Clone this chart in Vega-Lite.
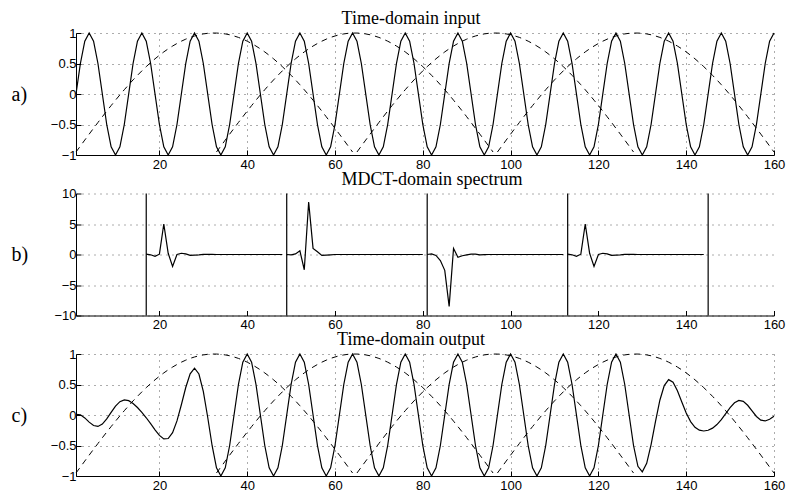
{
 "$schema": "https://vega.github.io/schema/vega-lite/v6.json",
 "padding": {"left": 11, "top": 10, "right": 5, "bottom": 5},
 "background": "white",
 "bounds": "flush",
 "spacing": 38.5,
 "datasets": {
  "sig": [
   {"n":1,"a":0,"c":0.0123,"w1":-0.951},
   {"n":2,"a":0.5,"c":0.0027,"w1":-0.853},
   {"n":3,"a":0.866,"c":-0.0478,"w1":-0.755},
   {"n":4,"a":1,"c":-0.1166,"w1":-0.658},
   {"n":5,"a":0.866,"c":-0.1722,"w1":-0.562},
   {"n":6,"a":0.5,"c":-0.187,"w1":-0.467},
   {"n":7,"a":0,"c":-0.1489,"w1":-0.373},
   {"n":8,"a":-0.5,"c":-0.0648,"w1":-0.28},
   {"n":9,"a":-0.866,"c":0.043,"w1":-0.19},
   {"n":10,"a":-1,"c":0.1456,"w1":-0.101},
   {"n":11,"a":-0.866,"c":0.2185,"w1":-0.014},
   {"n":12,"a":-0.5,"c":0.2483,"w1":0.07},
   {"n":13,"a":0,"c":0.2354,"w1":0.152},
   {"n":14,"a":0.5,"c":0.1893,"w1":0.231},
   {"n":15,"a":0.866,"c":0.1222,"w1":0.306},
   {"n":16,"a":1,"c":0.043,"w1":0.379},
   {"n":17,"a":0.866,"c":-0.0452,"w1":0.449},
   {"n":18,"a":0.5,"c":-0.1416,"w1":0.514},
   {"n":19,"a":0,"c":-0.2425,"w1":0.577},
   {"n":20,"a":-0.5,"c":-0.3342,"w1":0.635},
   {"n":21,"a":-0.866,"c":-0.3921,"w1":0.69},
   {"n":22,"a":-1,"c":-0.3857,"w1":0.74},
   {"n":23,"a":-0.866,"c":-0.2893,"w1":0.786},
   {"n":24,"a":-0.5,"c":-0.0971,"w1":0.828},
   {"n":25,"a":0,"c":0.1679,"w1":0.866},
   {"n":26,"a":0.5,"c":0.4508,"w1":0.899},
   {"n":27,"a":0.866,"c":0.6759,"w1":0.928},
   {"n":28,"a":1,"c":0.7669,"w1":0.951},
   {"n":29,"a":0.866,"c":0.6723,"w1":0.971},
   {"n":30,"a":0.5,"c":0.3873,"w1":0.985},
   {"n":31,"a":0,"c":-0.0367,"w1":0.995},
   {"n":32,"a":-0.5,"c":-0.4997,"w1":0.999},
   {"n":33,"a":-0.866,"c":-0.866,"w1":0.999,"w2":-0.951},
   {"n":34,"a":-1,"c":-1,"w1":0.995,"w2":-0.853},
   {"n":35,"a":-0.866,"c":-0.866,"w1":0.985,"w2":-0.755},
   {"n":36,"a":-0.5,"c":-0.5,"w1":0.971,"w2":-0.658},
   {"n":37,"a":0,"c":0,"w1":0.951,"w2":-0.562},
   {"n":38,"a":0.5,"c":0.5,"w1":0.928,"w2":-0.467},
   {"n":39,"a":0.866,"c":0.866,"w1":0.899,"w2":-0.373},
   {"n":40,"a":1,"c":1,"w1":0.866,"w2":-0.28},
   {"n":41,"a":0.866,"c":0.866,"w1":0.828,"w2":-0.19},
   {"n":42,"a":0.5,"c":0.5,"w1":0.786,"w2":-0.101},
   {"n":43,"a":0,"c":0,"w1":0.74,"w2":-0.014},
   {"n":44,"a":-0.5,"c":-0.5,"w1":0.69,"w2":0.07},
   {"n":45,"a":-0.866,"c":-0.866,"w1":0.635,"w2":0.152},
   {"n":46,"a":-1,"c":-1,"w1":0.577,"w2":0.231},
   {"n":47,"a":-0.866,"c":-0.866,"w1":0.514,"w2":0.306},
   {"n":48,"a":-0.5,"c":-0.5,"w1":0.449,"w2":0.379},
   {"n":49,"a":0,"c":0,"w1":0.379,"w2":0.449},
   {"n":50,"a":0.5,"c":0.5,"w1":0.306,"w2":0.514},
   {"n":51,"a":0.866,"c":0.866,"w1":0.231,"w2":0.577},
   {"n":52,"a":1,"c":1,"w1":0.152,"w2":0.635},
   {"n":53,"a":0.866,"c":0.866,"w1":0.07,"w2":0.69},
   {"n":54,"a":0.5,"c":0.5,"w1":-0.014,"w2":0.74},
   {"n":55,"a":0,"c":0,"w1":-0.101,"w2":0.786},
   {"n":56,"a":-0.5,"c":-0.5,"w1":-0.19,"w2":0.828},
   {"n":57,"a":-0.866,"c":-0.866,"w1":-0.28,"w2":0.866},
   {"n":58,"a":-1,"c":-1,"w1":-0.373,"w2":0.899},
   {"n":59,"a":-0.866,"c":-0.866,"w1":-0.467,"w2":0.928},
   {"n":60,"a":-0.5,"c":-0.5,"w1":-0.562,"w2":0.951},
   {"n":61,"a":0,"c":0,"w1":-0.658,"w2":0.971},
   {"n":62,"a":0.5,"c":0.5,"w1":-0.755,"w2":0.985},
   {"n":63,"a":0.866,"c":0.866,"w1":-0.853,"w2":0.995},
   {"n":64,"a":1,"c":1,"w1":-0.951,"w2":0.999},
   {"n":65,"a":0.866,"c":0.866,"w2":0.999,"w3":-0.951},
   {"n":66,"a":0.5,"c":0.5,"w2":0.995,"w3":-0.853},
   {"n":67,"a":0,"c":0,"w2":0.985,"w3":-0.755},
   {"n":68,"a":-0.5,"c":-0.5,"w2":0.971,"w3":-0.658},
   {"n":69,"a":-0.866,"c":-0.866,"w2":0.951,"w3":-0.562},
   {"n":70,"a":-1,"c":-1,"w2":0.928,"w3":-0.467},
   {"n":71,"a":-0.866,"c":-0.866,"w2":0.899,"w3":-0.373},
   {"n":72,"a":-0.5,"c":-0.5,"w2":0.866,"w3":-0.28},
   {"n":73,"a":0,"c":0,"w2":0.828,"w3":-0.19},
   {"n":74,"a":0.5,"c":0.5,"w2":0.786,"w3":-0.101},
   {"n":75,"a":0.866,"c":0.866,"w2":0.74,"w3":-0.014},
   {"n":76,"a":1,"c":1,"w2":0.69,"w3":0.07},
   {"n":77,"a":0.866,"c":0.866,"w2":0.635,"w3":0.152},
   {"n":78,"a":0.5,"c":0.5,"w2":0.577,"w3":0.231},
   {"n":79,"a":0,"c":0,"w2":0.514,"w3":0.306},
   {"n":80,"a":-0.5,"c":-0.5,"w2":0.449,"w3":0.379},
   {"n":81,"a":-0.866,"c":-0.866,"w2":0.379,"w3":0.449},
   {"n":82,"a":-1,"c":-1,"w2":0.306,"w3":0.514},
   {"n":83,"a":-0.866,"c":-0.866,"w2":0.231,"w3":0.577},
   {"n":84,"a":-0.5,"c":-0.5,"w2":0.152,"w3":0.635},
   {"n":85,"a":0,"c":0,"w2":0.07,"w3":0.69},
   {"n":86,"a":0.5,"c":0.5,"w2":-0.014,"w3":0.74},
   {"n":87,"a":0.866,"c":0.866,"w2":-0.101,"w3":0.786},
   {"n":88,"a":1,"c":1,"w2":-0.19,"w3":0.828},
   {"n":89,"a":0.866,"c":0.866,"w2":-0.28,"w3":0.866},
   {"n":90,"a":0.5,"c":0.5,"w2":-0.373,"w3":0.899},
   {"n":91,"a":0,"c":0,"w2":-0.467,"w3":0.928},
   {"n":92,"a":-0.5,"c":-0.5,"w2":-0.562,"w3":0.951},
   {"n":93,"a":-0.866,"c":-0.866,"w2":-0.658,"w3":0.971},
   {"n":94,"a":-1,"c":-1,"w2":-0.755,"w3":0.985},
   {"n":95,"a":-0.866,"c":-0.866,"w2":-0.853,"w3":0.995},
   {"n":96,"a":-0.5,"c":-0.5,"w2":-0.951,"w3":0.999},
   {"n":97,"a":0,"c":0,"w3":0.999,"w4":-0.951},
   {"n":98,"a":0.5,"c":0.5,"w3":0.995,"w4":-0.853},
   {"n":99,"a":0.866,"c":0.866,"w3":0.985,"w4":-0.755},
   {"n":100,"a":1,"c":1,"w3":0.971,"w4":-0.658},
   {"n":101,"a":0.866,"c":0.866,"w3":0.951,"w4":-0.562},
   {"n":102,"a":0.5,"c":0.5,"w3":0.928,"w4":-0.467},
   {"n":103,"a":0,"c":0,"w3":0.899,"w4":-0.373},
   {"n":104,"a":-0.5,"c":-0.5,"w3":0.866,"w4":-0.28},
   {"n":105,"a":-0.866,"c":-0.866,"w3":0.828,"w4":-0.19},
   {"n":106,"a":-1,"c":-1,"w3":0.786,"w4":-0.101},
   {"n":107,"a":-0.866,"c":-0.866,"w3":0.74,"w4":-0.014},
   {"n":108,"a":-0.5,"c":-0.5,"w3":0.69,"w4":0.07},
   {"n":109,"a":0,"c":0,"w3":0.635,"w4":0.152},
   {"n":110,"a":0.5,"c":0.5,"w3":0.577,"w4":0.231},
   {"n":111,"a":0.866,"c":0.866,"w3":0.514,"w4":0.306},
   {"n":112,"a":1,"c":1,"w3":0.449,"w4":0.379},
   {"n":113,"a":0.866,"c":0.866,"w3":0.379,"w4":0.449},
   {"n":114,"a":0.5,"c":0.5,"w3":0.306,"w4":0.514},
   {"n":115,"a":0,"c":0,"w3":0.231,"w4":0.577},
   {"n":116,"a":-0.5,"c":-0.5,"w3":0.152,"w4":0.635},
   {"n":117,"a":-0.866,"c":-0.866,"w3":0.07,"w4":0.69},
   {"n":118,"a":-1,"c":-1,"w3":-0.014,"w4":0.74},
   {"n":119,"a":-0.866,"c":-0.866,"w3":-0.101,"w4":0.786},
   {"n":120,"a":-0.5,"c":-0.5,"w3":-0.19,"w4":0.828},
   {"n":121,"a":0,"c":0,"w3":-0.28,"w4":0.866},
   {"n":122,"a":0.5,"c":0.5,"w3":-0.373,"w4":0.899},
   {"n":123,"a":0.866,"c":0.866,"w3":-0.467,"w4":0.928},
   {"n":124,"a":1,"c":1,"w3":-0.562,"w4":0.951},
   {"n":125,"a":0.866,"c":0.866,"w3":-0.658,"w4":0.971},
   {"n":126,"a":0.5,"c":0.5,"w3":-0.755,"w4":0.985},
   {"n":127,"a":0,"c":0,"w3":-0.853,"w4":0.995},
   {"n":128,"a":-0.5,"c":-0.5,"w3":-0.951,"w4":0.999},
   {"n":129,"a":-0.866,"c":-0.841,"w4":0.999},
   {"n":130,"a":-1,"c":-0.9311,"w4":0.995},
   {"n":131,"a":-0.866,"c":-0.7923,"w4":0.985},
   {"n":132,"a":-0.5,"c":-0.4854,"w4":0.971},
   {"n":133,"a":0,"c":-0.1069,"w4":0.951},
   {"n":134,"a":0.5,"c":0.2418,"w4":0.928},
   {"n":135,"a":0.866,"c":0.4829,"w4":0.899},
   {"n":136,"a":1,"c":0.5797,"w4":0.866},
   {"n":137,"a":0.866,"c":0.5386,"w4":0.828},
   {"n":138,"a":0.5,"c":0.3989,"w4":0.786},
   {"n":139,"a":0,"c":0.2144,"w4":0.74},
   {"n":140,"a":-0.5,"c":0.0345,"w4":0.69},
   {"n":141,"a":-0.866,"c":-0.1081,"w4":0.635},
   {"n":142,"a":-1,"c":-0.2015,"w4":0.577},
   {"n":143,"a":-0.866,"c":-0.2492,"w4":0.514},
   {"n":144,"a":-0.5,"c":-0.2623,"w4":0.449},
   {"n":145,"a":0,"c":-0.2497,"w4":0.379},
   {"n":146,"a":0.5,"c":-0.215,"w4":0.306},
   {"n":147,"a":0.866,"c":-0.1572,"w4":0.231},
   {"n":148,"a":1,"c":-0.0761,"w4":0.152},
   {"n":149,"a":0.866,"c":0.0219,"w4":0.07},
   {"n":150,"a":0.5,"c":0.1215,"w4":-0.014},
   {"n":151,"a":0,"c":0.2008,"w4":-0.101},
   {"n":152,"a":-0.5,"c":0.2387,"w4":-0.19},
   {"n":153,"a":-0.866,"c":0.2236,"w4":-0.28},
   {"n":154,"a":-1,"c":0.1595,"w4":-0.373},
   {"n":155,"a":-0.866,"c":0.0669,"w4":-0.467},
   {"n":156,"a":-0.5,"c":-0.024,"w4":-0.562},
   {"n":157,"a":0,"c":-0.0842,"w4":-0.658},
   {"n":158,"a":0.5,"c":-0.0977,"w4":-0.755},
   {"n":159,"a":0.866,"c":-0.0687,"w4":-0.853},
   {"n":160,"a":1,"c":-0.0206,"w4":-0.951}
  ],
  "spec": [
   {"n":17,"b":1,"s":0.05},{"n":18,"b":1,"s":-0.05},{"n":19,"b":1,"s":-0.3},{"n":20,"b":1,"s":0.05},
   {"n":21,"b":1,"s":5.0},{"n":22,"b":1,"s":0.2},{"n":23,"b":1,"s":-1.95},{"n":24,"b":1,"s":0.0},
   {"n":25,"b":1,"s":0.2},{"n":26,"b":1,"s":0.1},{"n":27,"b":1,"s":-0.15},{"n":28,"b":1,"s":-0.1},
   {"n":29,"b":1,"s":-0.05},{"n":30,"b":1,"s":0.02},{"n":31,"b":1,"s":0.03},{"n":32,"b":1,"s":0.02},
   {"n":33,"b":1,"s":0},{"n":34,"b":1,"s":0},{"n":35,"b":1,"s":0},{"n":36,"b":1,"s":0},
   {"n":37,"b":1,"s":0},{"n":38,"b":1,"s":0},{"n":39,"b":1,"s":0},{"n":40,"b":1,"s":0},
   {"n":41,"b":1,"s":0},{"n":42,"b":1,"s":0},{"n":43,"b":1,"s":0},{"n":44,"b":1,"s":0},
   {"n":45,"b":1,"s":0},{"n":46,"b":1,"s":0},{"n":47,"b":1,"s":0},{"n":48,"b":1,"s":0},
   {"n":49,"b":2,"s":0},{"n":50,"b":2,"s":-0.05},{"n":51,"b":2,"s":0.1},{"n":52,"b":2,"s":0.6},
   {"n":53,"b":2,"s":-2.5},{"n":54,"b":2,"s":8.6},{"n":55,"b":2,"s":1.0},{"n":56,"b":2,"s":0.45},
   {"n":57,"b":2,"s":-0.15},{"n":58,"b":2,"s":-0.1},{"n":59,"b":2,"s":-0.05},{"n":60,"b":2,"s":0},
   {"n":61,"b":2,"s":0},{"n":62,"b":2,"s":0},{"n":63,"b":2,"s":0},{"n":64,"b":2,"s":0},
   {"n":65,"b":2,"s":0},{"n":66,"b":2,"s":0},{"n":67,"b":2,"s":0},{"n":68,"b":2,"s":0},
   {"n":69,"b":2,"s":0},{"n":70,"b":2,"s":0},{"n":71,"b":2,"s":0},{"n":72,"b":2,"s":0},
   {"n":73,"b":2,"s":0},{"n":74,"b":2,"s":0},{"n":75,"b":2,"s":0},{"n":76,"b":2,"s":0},
   {"n":77,"b":2,"s":0},{"n":78,"b":2,"s":0},{"n":79,"b":2,"s":0},{"n":80,"b":2,"s":0},
   {"n":81,"b":3,"s":0},{"n":82,"b":3,"s":0.1},{"n":83,"b":3,"s":-0.15},{"n":84,"b":3,"s":-1.0},
   {"n":85,"b":3,"s":-2.6},{"n":86,"b":3,"s":-8.5},{"n":87,"b":3,"s":1.0},{"n":88,"b":3,"s":-0.45},
   {"n":89,"b":3,"s":-0.2},{"n":90,"b":3,"s":-0.05},{"n":91,"b":3,"s":0.05},{"n":92,"b":3,"s":0.05},
   {"n":93,"b":3,"s":-0.05},{"n":94,"b":3,"s":-0.03},{"n":95,"b":3,"s":0},{"n":96,"b":3,"s":0},
   {"n":97,"b":3,"s":0},{"n":98,"b":3,"s":0},{"n":99,"b":3,"s":0},{"n":100,"b":3,"s":0},
   {"n":101,"b":3,"s":0},{"n":102,"b":3,"s":0},{"n":103,"b":3,"s":0},{"n":104,"b":3,"s":0},
   {"n":105,"b":3,"s":0},{"n":106,"b":3,"s":0},{"n":107,"b":3,"s":0},{"n":108,"b":3,"s":0},
   {"n":109,"b":3,"s":0},{"n":110,"b":3,"s":0},{"n":111,"b":3,"s":0},{"n":112,"b":3,"s":0},
   {"n":113,"b":4,"s":0.05},{"n":114,"b":4,"s":-0.05},{"n":115,"b":4,"s":-0.3},{"n":116,"b":4,"s":0.05},
   {"n":117,"b":4,"s":5.0},{"n":118,"b":4,"s":0.2},{"n":119,"b":4,"s":-1.95},{"n":120,"b":4,"s":0.0},
   {"n":121,"b":4,"s":0.2},{"n":122,"b":4,"s":0.1},{"n":123,"b":4,"s":-0.15},{"n":124,"b":4,"s":-0.1},
   {"n":125,"b":4,"s":-0.05},{"n":126,"b":4,"s":0.02},{"n":127,"b":4,"s":0.03},{"n":128,"b":4,"s":0.02},
   {"n":129,"b":4,"s":0},{"n":130,"b":4,"s":0},{"n":131,"b":4,"s":0},{"n":132,"b":4,"s":0},
   {"n":133,"b":4,"s":0},{"n":134,"b":4,"s":0},{"n":135,"b":4,"s":0},{"n":136,"b":4,"s":0},
   {"n":137,"b":4,"s":0},{"n":138,"b":4,"s":0},{"n":139,"b":4,"s":0},{"n":140,"b":4,"s":0},
   {"n":141,"b":4,"s":0},{"n":142,"b":4,"s":0},{"n":143,"b":4,"s":0},{"n":144,"b":4,"s":0}
  ],
  "edges": [{"n":17},{"n":49},{"n":81},{"n":113},{"n":145}]
 },
 "vconcat": [
  {
   "width": 698, "height": 122,
   "title": {"text": "Time-domain input", "dx": -14},
   "data": {"name": "sig"},
   "layer": [
    {
     "mark": {"type": "line", "color": "#000", "strokeWidth": 1.2},
     "encoding": {
      "x": {"field": "n", "type": "quantitative", "title": null,
            "scale": {"domain": [1, 160], "nice": false, "zero": false},
            "axis": {"values": [20,40,60,80,100,120,140,160], "format": "d"}},
      "y": {"field": "a", "type": "quantitative", "title": "a)",
            "scale": {"domain": [-1, 1], "nice": false},
            "axis": {"values": [-1,-0.5,0,0.5,1], "format": ".1~f", "labelOverlap": false}}
     }
    },
    {
     "transform": [{"fold": ["w1","w2","w3","w4"], "as": ["w","v"]}, {"filter": "isValid(datum.v)"}],
     "mark": {"type": "line", "color": "#000", "strokeWidth": 1, "strokeDash": [6,5]},
     "encoding": {
      "x": {"field": "n", "type": "quantitative", "title": null,
            "axis": {"values": [20,40,60,80,100,120,140,160], "format": "d"}},
      "y": {"field": "v", "type": "quantitative", "title": "a)",
            "axis": {"values": [-1,-0.5,0,0.5,1], "format": ".1~f", "labelOverlap": false}},
      "detail": {"field": "w"}
     }
    }
   ]
  },
  {
   "width": 698, "height": 122,
   "title": {"text": "MDCT-domain spectrum", "dx": 7},
   "layer": [
    {
     "data": {"name": "spec"},
     "mark": {"type": "line", "color": "#000", "strokeWidth": 1.2},
     "encoding": {
      "x": {"field": "n", "type": "quantitative", "title": null,
            "scale": {"domain": [1, 160], "nice": false, "zero": false},
            "axis": {"values": [20,40,60,80,100,120,140,160], "format": "d", "grid": false}},
      "y": {"field": "s", "type": "quantitative", "title": "b)",
            "scale": {"domain": [-10, 10], "nice": false},
            "axis": {"values": [-10,-5,0,5,10], "format": "d", "labelOverlap": false}},
      "detail": {"field": "b"}
     }
    },
    {
     "data": {"name": "edges"},
     "mark": {"type": "rule", "color": "#000", "strokeWidth": 1.2},
     "encoding": {
      "x": {"field": "n", "type": "quantitative", "title": null,
            "axis": {"values": [20,40,60,80,100,120,140,160], "format": "d", "grid": false}}
     }
    }
   ]
  },
  {
   "width": 698, "height": 122,
   "title": {"text": "Time-domain output", "dx": -14},
   "data": {"name": "sig"},
   "layer": [
    {
     "mark": {"type": "line", "color": "#000", "strokeWidth": 1.2},
     "encoding": {
      "x": {"field": "n", "type": "quantitative", "title": null,
            "scale": {"domain": [1, 160], "nice": false, "zero": false},
            "axis": {"values": [20,40,60,80,100,120,140,160], "format": "d"}},
      "y": {"field": "c", "type": "quantitative", "title": "c)",
            "scale": {"domain": [-1, 1], "nice": false},
            "axis": {"values": [-1,-0.5,0,0.5,1], "format": ".1~f", "labelOverlap": false}}
     }
    },
    {
     "transform": [{"fold": ["w1","w2","w3","w4"], "as": ["w","v"]}, {"filter": "isValid(datum.v)"}],
     "mark": {"type": "line", "color": "#000", "strokeWidth": 1, "strokeDash": [6,5]},
     "encoding": {
      "x": {"field": "n", "type": "quantitative", "title": null,
            "axis": {"values": [20,40,60,80,100,120,140,160], "format": "d"}},
      "y": {"field": "v", "type": "quantitative", "title": "c)",
            "axis": {"values": [-1,-0.5,0,0.5,1], "format": ".1~f", "labelOverlap": false}},
      "detail": {"field": "w"}
     }
    }
   ]
  }
 ],
 "config": {
  "view": {"stroke": null},
  "axis": {
   "labelFont": "Liberation Sans", "labelFontSize": 13, "labelColor": "#000",
   "domainColor": "#000", "domainWidth": 1,
   "tickColor": "#000", "tickSize": -5, "tickWidth": 1,
   "grid": true, "gridColor": "#000", "gridDash": [1,5], "gridOpacity": 0.65, "gridWidth": 1,
   "titleFont": "Liberation Serif", "titleFontSize": 20, "titleFontWeight": "normal", "titleColor": "#000"
  },
  "axisX": {"labelPadding": 8, "labelFlush": false},
  "axisY": {"labelPadding": 5, "labelFlush": false, "titleAngle": 0, "titleX": -65, "titleY": 61, "titleAlign": "left", "titleBaseline": "middle"},
  "title": {"font": "Liberation Serif", "fontSize": 18, "fontWeight": "normal", "color": "#000", "baseline": "alphabetic", "offset": -1, "frame": "group"}
 }
}
